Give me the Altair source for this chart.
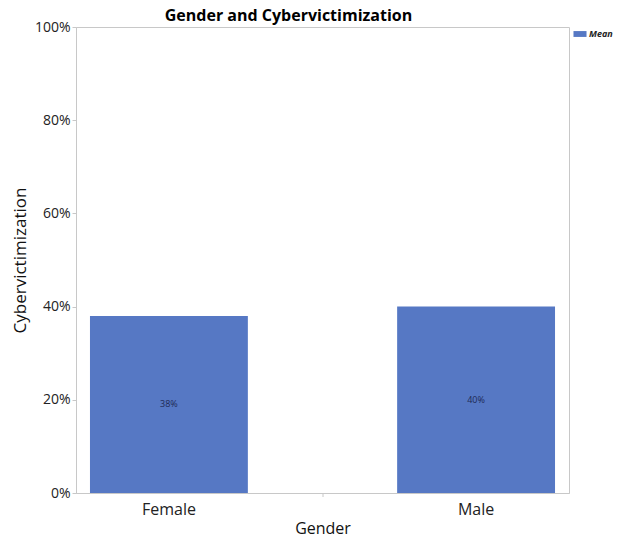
import altair as alt
import pandas as pd

genders = ["Female", "Male"]
means = [0.38, 0.40]
series = ["Mean", "Mean"]

df = pd.DataFrame({"Gender": genders, "Mean": means, "series": series})
df["half"] = df["Mean"] / 2

FONT = "Open Sans"
BAR = "#5678C4"

xenc = alt.X(
    "Gender:N",
    title="Gender",
    sort=genders,
    scale=alt.Scale(paddingInner=0.486, paddingOuter=0.0455),
    axis=alt.Axis(labelAngle=0, ticks=False, labelPadding=8, titlePadding=3,
                  labelFontSize=16, titleFontSize=16, titleFontWeight="normal"),
)

yaxis = alt.Axis(format=".0%", values=[0, 0.2, 0.4, 0.6, 0.8, 1.0], grid=False,
                 tickSize=4, labelPadding=2, titlePadding=5,
                 labelFontSize=14, titleFontSize=17, titleFontWeight="normal")

bars = alt.Chart(df).mark_bar(stroke=None).encode(
    x=xenc,
    y=alt.Y("Mean:Q", title="Cybervictimization", scale=alt.Scale(domain=[0, 1], nice=False), axis=yaxis),
    color=alt.Color(
        "series:N",
        scale=alt.Scale(domain=["Mean"], range=[BAR]),
        legend=alt.Legend(title=None, orient="none", legendX=497, legendY=0,
                          symbolType="M-1,-0.45L1,-0.45L1,0.45L-1,0.45Z", symbolSize=170,
                          symbolStrokeWidth=0, labelFont=FONT, labelFontSize=9,
                          labelFontStyle="italic", labelFontWeight="bold", labelColor="#222",
                          labelOffset=2),
    ),
)

labels = alt.Chart(df).mark_text(fontSize=9, color="#1e2a55", font=FONT).encode(
    x=xenc,
    y=alt.Y("half:Q", title="Cybervictimization", axis=yaxis),
    text=alt.Text("Mean:Q", format=".0%"),
)

divider = alt.Chart(pd.DataFrame({"d": [0]})).mark_rule(color="#c8c8c8").encode(
    x=alt.value(247), y=alt.value(466), y2=alt.value(470)
)

chart = alt.layer(bars, labels, divider).properties(
    width=493,
    height=466,
    title=alt.TitleParams("Gender and Cybervictimization", fontSize=16, fontWeight="bold",
                          font=FONT, color="#000", anchor="middle", dx=-34, offset=-4),
    autosize=alt.AutoSizeParams(type="none"),
    padding={"left": 68, "top": 19, "right": 44, "bottom": 45},
    background="white",
).configure_view(stroke="#c8c8c8", strokeWidth=1).configure_axis(
    labelFont=FONT, titleFont=FONT, labelColor="#222", titleColor="#111",
    domainColor="#c8c8c8", tickColor="#c8c8c8",
)

chart.save("out.html", embed_options={"renderer": "svg", "actions": False})
